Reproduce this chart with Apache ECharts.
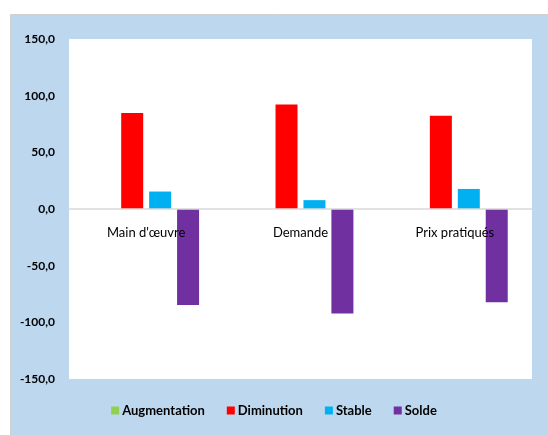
<!DOCTYPE html>
<html>
<head>
<meta charset="utf-8">
<script src="https://cdn.jsdelivr.net/npm/echarts@6/dist/echarts.min.js"></script>
<style>
html,body{margin:0;padding:0;background:#fff;}
#c{width:548px;height:435px;}
</style>
</head>
<body>
<div id="c"></div>
<script>
var categories = ["Main d'œuvre", "Demande", "Prix pratiqués"];
var augmentation = [0, 0, 0];
var diminution = [84.6, 92.2, 82.3];
var stable = [15.4, 7.8, 17.7];
var solde = [-84.6, -92.2, -82.3];
var seriesNames = ["Augmentation", "Diminution", "Stable", "Solde"];
var seriesColors = ["#92D050", "#FF0000", "#00B0F0", "#7030A0"];
var seriesData = [augmentation, diminution, stable, solde];

var chart = echarts.init(document.getElementById('c'));
var font = "Lato, 'Open Sans', sans-serif";
chart.setOption({
  backgroundColor: '#ffffff',
  animation: false,
  graphic: [{
    type: 'rect', left: 10, top: 14, z: -10,
    shape: {width: 540, height: 423},
    style: {fill: '#BDD7EE', stroke: '#D0D0D0', lineWidth: 1}
  }, {
    type: 'rect', left: 69, top: 39, z: -9,
    shape: {width: 463, height: 340},
    style: {fill: '#ffffff'}
  }],
  grid: {left: 69, right: 16, top: 39, bottom: 56, containLabel: false},
  legend: {
    bottom: 13, left: 'center',
    icon: 'rect', itemWidth: 8, itemHeight: 8, itemGap: 22,
    textStyle: {fontFamily: font, fontWeight: 'bold', fontSize: 13, color: '#000', padding: [0,0,0,-2]},
    data: seriesNames
  },
  xAxis: {
    type: 'category', data: categories, z: 10,
    position: 'bottom', offset: -170,
    axisLine: {onZero: false, lineStyle: {color: '#D9D9D9', width: 1.5}},
    axisTick: {show: false},
    axisLabel: {fontFamily: font, fontSize: 13, color: '#000', margin: 17}
  },
  yAxis: {
    type: 'value', min: -150, max: 150, interval: 50,
    axisLine: {show: false}, axisTick: {show: false}, splitLine: {show: false},
    axisLabel: {
      fontFamily: font, fontSize: 12, fontWeight: 'bold', color: '#000', margin: 14,
      formatter: function (v) { return v.toFixed(1).replace('.', ','); }
    }
  },
  series: seriesNames.map(function (n, i) {
    return {
      name: n, type: 'bar', data: seriesData[i],
      barWidth: 22, barGap: '27%',
      itemStyle: {color: seriesColors[i]}
    };
  })
});
</script>
</body>
</html>
